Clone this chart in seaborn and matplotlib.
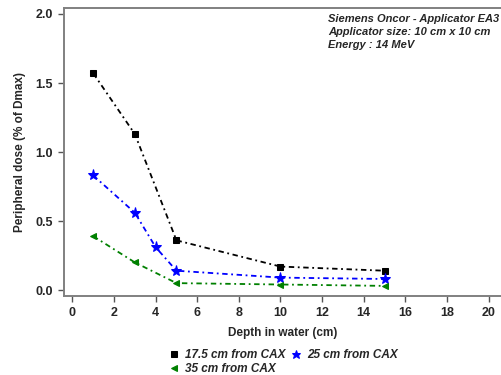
import matplotlib
matplotlib.use("Agg")
import matplotlib.pyplot as plt
import seaborn as sns
import pandas as pd

depth_a = [1, 3, 5, 10, 15]
dose_a = [1.57, 1.13, 0.36, 0.17, 0.14]
depth_b = [1, 3, 4, 5, 10, 15]
dose_b = [0.83, 0.56, 0.31, 0.14, 0.09, 0.08]
depth_c = [1, 3, 5, 10, 15]
dose_c = [0.39, 0.20, 0.05, 0.04, 0.03]
labels = ["17.5 cm from CAX", "25 cm from CAX", "35 cm from CAX"]
x_ticks = [0, 2, 4, 6, 8, 10, 12, 14, 16, 18, 20]
y_ticks = [0.0, 0.5, 1.0, 1.5, 2.0]

sns.set_style("ticks")
plt.rcParams['font.family'] = ['Liberation Sans', 'DejaVu Sans']

fig = plt.figure(figsize=(5.01, 3.75), dpi=100)
ax = fig.add_axes([0.128, 0.2115, 0.872, 0.767])

series = [
    (depth_a, dose_a, labels[0], "black", "s", 5),
    (depth_b, dose_b, labels[1], "blue", "*", 8),
    (depth_c, dose_c, labels[2], "green", "<", 5),
]
for xs, ys, lab, col, mk, ms in series:
    df = pd.DataFrame({"x": xs, "y": ys})
    sns.lineplot(data=df, x="x", y="y", ax=ax, color=col, marker=mk,
                 markersize=ms, markeredgecolor=col, markerfacecolor=col,
                 linestyle=(0, (3, 2, 1, 2)), linewidth=1.3, label=lab)

ax.set_xlim(-0.4, 20.6)
ax.set_ylim(-0.041, 2.043)
ax.set_xticks(x_ticks)
ax.set_yticks(y_ticks)
ax.set_yticklabels([f"{v:.1f}" for v in y_ticks])
for lbl in ax.get_xticklabels() + ax.get_yticklabels():
    lbl.set_fontweight("bold")
    lbl.set_fontsize(9)
ax.tick_params(axis="both", direction="out", length=4, width=1, color="#555555", pad=4)

for s in ["left", "bottom", "top"]:
    ax.spines[s].set_color("#808080")
    ax.spines[s].set_linewidth(1.4)
ax.spines["right"].set_visible(False)

ax.set_xlabel("Depth in water (cm)", fontsize=8.5, fontweight="bold", labelpad=6)
ax.set_ylabel("Peripheral dose (% of Dmax)", fontsize=8.5, fontweight="bold", labelpad=7)

ax.text(0.604, 0.978, "Siemens Oncor - Applicator EA3\nApplicator size: 10 cm x 10 cm\nEnergy : 14 MeV",
        transform=ax.transAxes, ha="left", va="top", fontsize=8,
        fontweight="bold", fontstyle="italic", linespacing=1.35)

h, l = ax.get_legend_handles_labels()
order = [0, 2, 1]
leg = ax.legend([h[i] for i in order], [l[i] for i in order], ncol=2,
                loc="upper left", bbox_to_anchor=(0.228, -0.17), frameon=False,
                prop={"weight": "bold", "style": "italic", "size": 8.5},
                handlelength=1.0, handletextpad=0.4, columnspacing=0.4,
                labelspacing=0.15, borderaxespad=0, markerscale=0.8)
for lh in leg.get_lines():
    lh.set_linestyle("none")

fig.savefig("out.png", dpi=100)
